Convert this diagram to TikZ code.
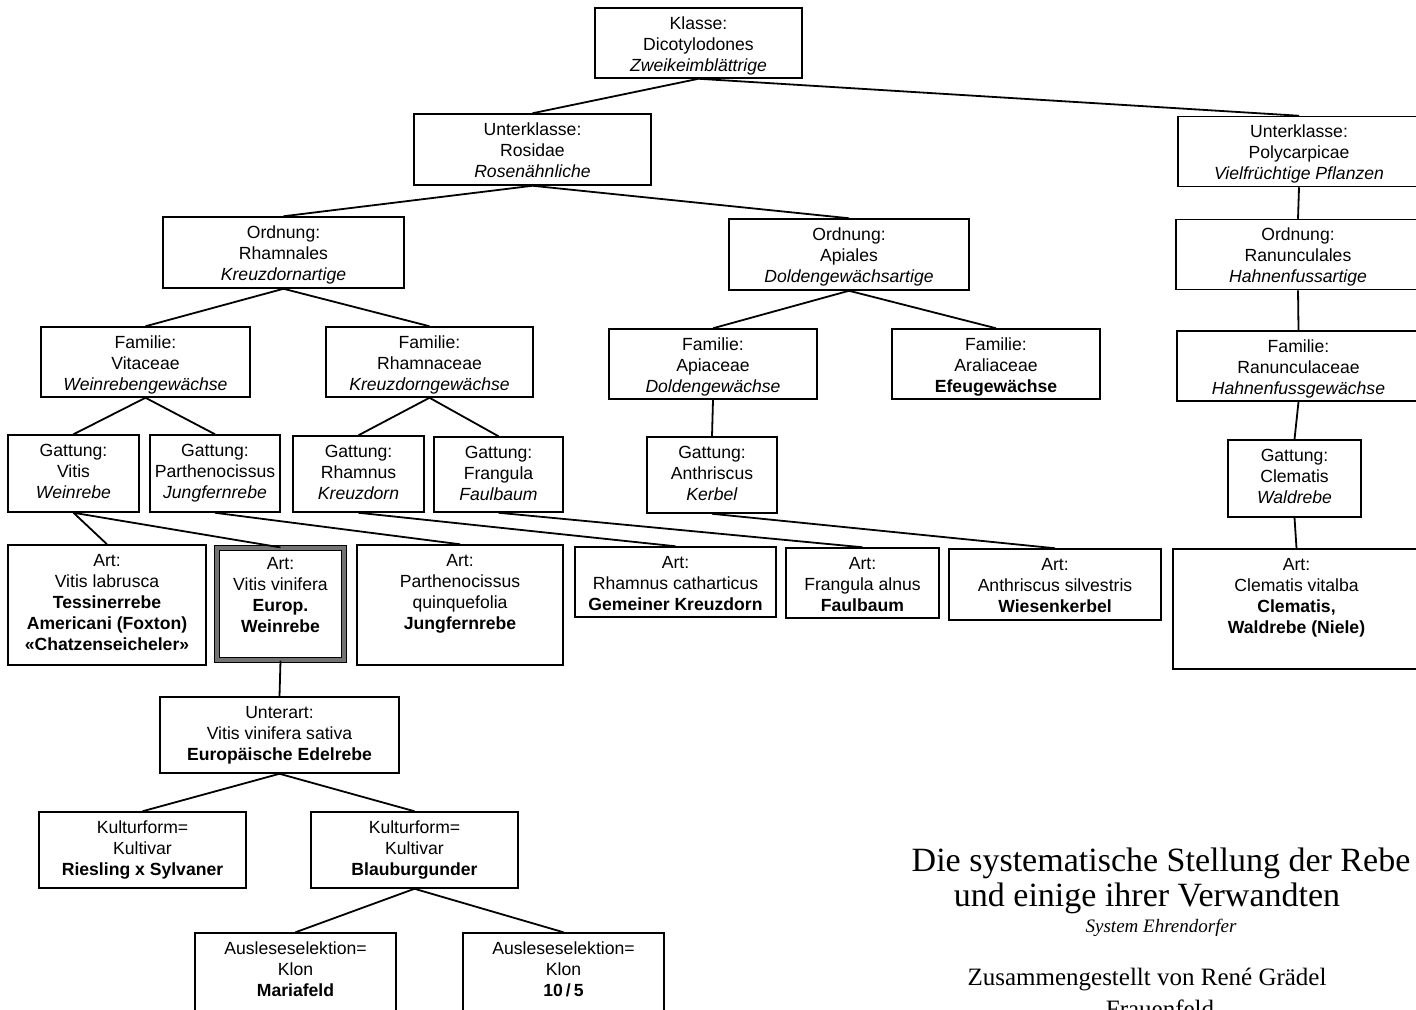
\documentclass[tikz,border=0pt]{standalone}
\usepackage{fontspec}
\setmainfont{Liberation Serif}
\setsansfont{Liberation Sans}
\usepackage{xcolor}
\usepackage{tikz}
\usetikzlibrary{positioning}

\begin{document}
\begin{tikzpicture}[
    x=0.5pt, y=-0.5pt,
    % all taxon boxes (three lines of text unless told otherwise)
    box/.style={draw, line width=0.75pt, align=center, minimum width=#1,
      font=\sffamily\fontsize{8.8}{10.5}\selectfont,
      text height=28pt, inner xsep=2pt, inner ysep=3.5pt},
    four/.style={text height=38.5pt},
    five/.style={text height=49pt},
    % the box of the grape vine itself
    mainbox/.style={box=#1, line width=0.6pt, double=black!55, double distance=2pt},
    link/.style={line width=0.9pt},
    heading/.style={font=\fontsize{17}{18}\selectfont, anchor=base},
  ]
  \useasboundingbox (0,0) rectangle (1416,1009);

  % Klasse and Unterklassen
  \node[box=103.5pt, text depth=0pt] (klasse) at (698.5,43)
    {Klasse:\\Dicotylodones\\\textit{Zweikeimblättrige}};
  \node[box=118.5pt, text depth=0.5pt] (rosidae) at (532.5,149.5)
    {Unterklasse:\\Rosidae\\\textit{Rosenähnliche}};
  \node[box=121pt, text depth=0pt] (polycarp) at (1299,151.5)
    {Unterklasse:\\Polycarpicae\\\textit{Vielfrüchtige Pflanzen}};

  % Ordnungen
  \node[box=120.5pt, text depth=0.5pt] (rhamnales) at (283.5,252.5)
    {Ordnung:\\Rhamnales\\\textit{Kreuzdornartige}};
  \node[box=120pt, text depth=0.5pt] (apiales) at (849,254.5)
    {Ordnung:\\Apiales\\\textit{Doldengewächsartige}};
  \node[box=122pt, text depth=0pt] (ranunculales) at (1298,254.5)
    {Ordnung:\\Ranunculales\\\textit{Hahnenfussartige}};

  % Familien
  \node[box=104.5pt, text depth=0pt] (vitaceae) at (145.5,362)
    {Familie:\\Vitaceae\\\textit{Weinrebengewächse}};
  \node[box=103.5pt, text depth=0pt] (rhamnaceae) at (429.5,362)
    {Familie:\\Rhamnaceae\\\textit{Kreuzdorngewächse}};
  \node[box=104pt, text depth=0pt] (apiaceae) at (713,364)
    {Familie:\\Apiaceae\\\textit{Doldengewächse}};
  \node[box=104pt, text depth=0pt] (araliaceae) at (996,364)
    {Familie:\\Araliaceae\\\textbf{Efeugewächse}};
  \node[box=121.5pt, text depth=0pt] (ranunculaceae) at (1298.5,366)
    {Familie:\\Ranunculaceae\\\textit{Hahnenfussgewächse}};

  % Gattungen
  \node[box=65.5pt, text depth=3.5pt] (vitis) at (73.5,473.5)
    {Gattung:\\Vitis\\\textit{Weinrebe}};
  \node[box=65pt, text depth=3.5pt] (parthenocissus) at (215,473.5)
    {Gattung:\\Parthenocissus\\\textit{Jungfernrebe}};
  \node[box=65.5pt, text depth=3pt] (rhamnus) at (358.5,474)
    {Gattung:\\Rhamnus\\\textit{Kreuzdorn}};
  \node[box=64.5pt, text depth=2.5pt] (frangula) at (498.5,474.5)
    {Gattung:\\Frangula\\\textit{Faulbaum}};
  \node[box=65pt, text depth=3pt] (anthriscus) at (712,475)
    {Gattung:\\Anthriscus\\\textit{Kerbel}};
  \node[box=66.5pt, text depth=3.5pt] (clematis) at (1294.5,478.5)
    {Gattung:\\Clematis\\\textit{Waldrebe}};

  % Arten
  \node[box=99pt, five, text depth=4pt] (labrusca) at (107,605)
    {Art:\\Vitis labrusca\\\textbf{Tessinerrebe}\\\textbf{Americani (Foxton)}\\\textbf{«Chatzenseicheler»}};
  \node[mainbox=63.5pt, four, text depth=10.5pt] (vinifera) at (280.5,604)
    {Art:\\Vitis vinifera\\\textbf{Europ.}\\\textbf{Weinrebe}};
  \node[box=103pt, four, text depth=14.5pt] (quinquefolia) at (460,605)
    {Art:\\Parthenocissus\\quinquefolia\\\textbf{Jungfernrebe}};
  \node[box=100.5pt, text depth=0pt] (catharticus) at (675.5,582)
    {Art:\\Rhamnus catharticus\\\textbf{Gemeiner Kreuzdorn}};
  \node[box=76.5pt, text depth=0pt] (alnus) at (862.5,583)
    {Art:\\Frangula alnus\\\textbf{Faulbaum}};
  \node[box=106pt, text depth=0.5pt] (silvestris) at (1055,584.5)
    {Art:\\Anthriscus silvestris\\\textbf{Wiesenkerbel}};
  \node[box=123.5pt, four, text depth=14.5pt] (vitalba) at (1296.5,609)
    {Art:\\Clematis vitalba\\\textbf{Clematis,}\\\textbf{Waldrebe (Niele)}};

  % Unterart, Kulturformen, Klone
  \node[box=119.5pt, text depth=3pt] (sativa) at (279.5,735)
    {Unterart:\\Vitis vinifera sativa\\\textbf{Europäische Edelrebe}};
  \node[box=103.5pt, text depth=3pt] (riesling) at (142.5,850)
    {Kulturform=\\Kultivar\\\textbf{Riesling x Sylvaner}};
  \node[box=103.5pt, text depth=3pt] (blauburgunder) at (414.5,850)
    {Kulturform=\\Kultivar\\\textbf{Blauburgunder}};
  \node[box=100.5pt, text depth=5pt] (mariafeld) at (295.5,973)
    {Ausleseselektion=\\Klon\\\textbf{Mariafeld}};
  \node[box=100.5pt, text depth=5pt] (klon) at (563.5,973)
    {Ausleseselektion=\\Klon\\\textbf{10\,/\,5}};

  % connectors
  \draw[link] (klasse.south) -- (rosidae.north)
              (klasse.south) -- (polycarp.north);
  \draw[link] (rosidae.south) -- (rhamnales.north)
              (rosidae.south) -- (apiales.north);
  \draw[link] (polycarp.south) -- (ranunculales.north);
  \draw[link] (rhamnales.south) -- (vitaceae.north)
              (rhamnales.south) -- (rhamnaceae.north);
  \draw[link] (apiales.south) -- (apiaceae.north)
              (apiales.south) -- (araliaceae.north);
  \draw[link] (ranunculales.south) -- (ranunculaceae.north);
  \draw[link] (vitaceae.south) -- (vitis.north)
              (vitaceae.south) -- (parthenocissus.north);
  \draw[link] (rhamnaceae.south) -- (rhamnus.north)
              (rhamnaceae.south) -- (frangula.north);
  \draw[link] (apiaceae.south) -- (anthriscus.north);
  \draw[link] (ranunculaceae.south) -- (clematis.north);
  \draw[link] (vitis.south) -- (labrusca.north)
              (vitis.south) -- (vinifera.north);
  \draw[link] (parthenocissus.south) -- (quinquefolia.north);
  \draw[link] (rhamnus.south) -- (catharticus.north);
  \draw[link] (frangula.south) -- (alnus.north);
  \draw[link] (anthriscus.south) -- (silvestris.north);
  \draw[link] (clematis.south) -- (vitalba.north);
  \draw[link] (vinifera.south) -- (sativa.north);
  \draw[link] (sativa.south) -- (riesling.north)
              (sativa.south) -- (blauburgunder.north);
  \draw[link] (blauburgunder.south) -- (mariafeld.north)
              (blauburgunder.south) -- (klon.north);

  % title block
  \node[heading] (title1) at (1161,871) {Die systematische Stellung der Rebe};
  \node[heading] (title2) at (1147,906) {und einige ihrer Verwandten};
  \node[anchor=base, font=\fontsize{9.5}{11}\selectfont\itshape] (system) at (1161,932)
    {System Ehrendorfer};
  \node[anchor=base, font=\fontsize{12.5}{14}\selectfont] (author) at (1147,985)
    {Zusammengestellt von René Grädel};
  \node[anchor=base, font=\fontsize{12.5}{14}\selectfont] (town) at (1160,1017)
    {Frauenfeld};
\end{tikzpicture}
\end{document}
